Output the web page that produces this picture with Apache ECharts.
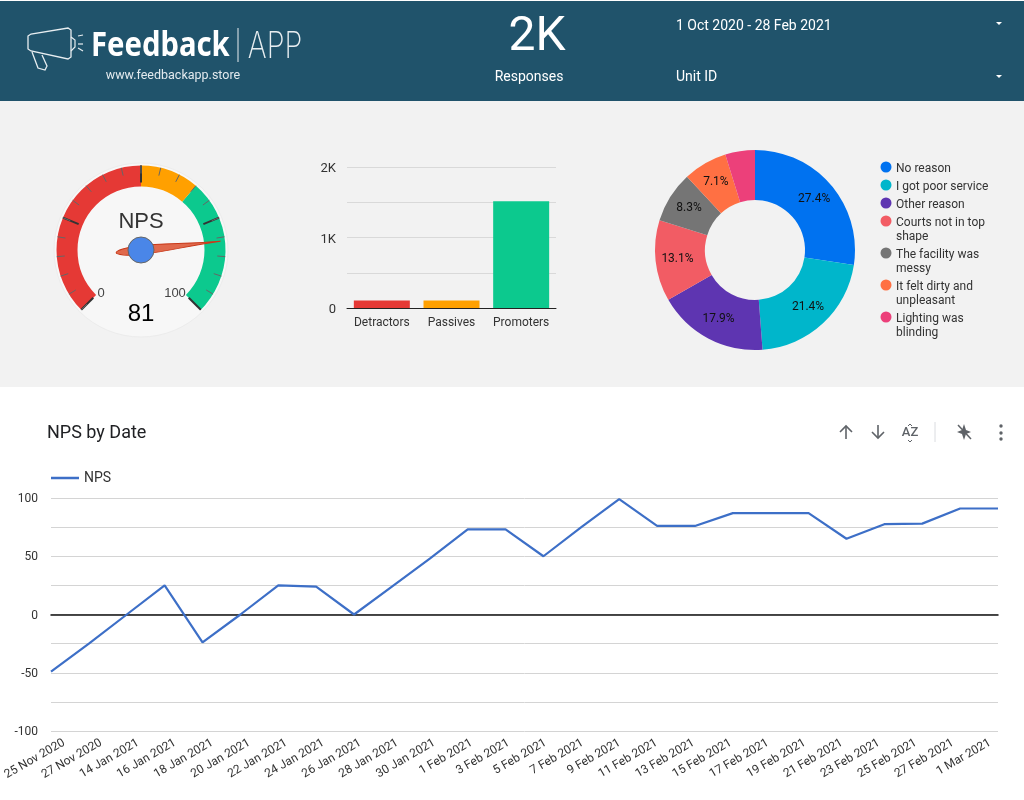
<!DOCTYPE html>
<html>
<head>
<meta charset="utf-8">
<style>html,body{margin:0;padding:0;background:#fff}#main{width:1024px;height:800px}</style>
<script src="https://cdn.jsdelivr.net/npm/echarts@6/dist/echarts.min.js"></script>
</head>
<body>
<div id="main"></div>
<script>
var npsScore = 81;
var gaugeTickLabels = ['0', '100'];
var barCats = ['Detractors', 'Passives', 'Promoters'];
var barVals = [105, 105, 1515];
var reasonNames = ['No reason', 'I got poor service', 'Other reason', 'Courts not in top\nshape', 'The facility was\nmessy', 'It felt dirty and\nunpleasant', 'Lighting was\nblinding'];
var reasonVals = [27.4, 21.4, 17.9, 13.1, 8.3, 7.1, 4.8];
var reasonColors = ['#0072f0', '#00b6cb', '#5e35b1', '#f25c64', '#757575', '#ff7043', '#ec407a'];
var dates = ['25 Nov 2020', '27 Nov 2020', '14 Jan 2021', '16 Jan 2021', '18 Jan 2021', '20 Jan 2021', '22 Jan 2021', '24 Jan 2021', '26 Jan 2021', '28 Jan 2021', '30 Jan 2021', '1 Feb 2021', '3 Feb 2021', '5 Feb 2021', '7 Feb 2021', '9 Feb 2021', '11 Feb 2021', '13 Feb 2021', '15 Feb 2021', '17 Feb 2021', '19 Feb 2021', '21 Feb 2021', '23 Feb 2021', '25 Feb 2021', '27 Feb 2021', '1 Mar 2021'];
var npsByDate = [-49, -25, 0, 25, -24, 0, 25, 24, 0, 24, 48, 73, 73, 50, 75, 99, 76, 76, 87, 87, 87, 65, 77.5, 78, 91, 91];

var font = 'Roboto';
var myChart = echarts.init(document.getElementById('main'));

var graphics = [
    {type: 'rect', z: -10, shape: {x: 0, y: 1, width: 1024, height: 100}, style: {fill: '#20536b'}},
    {type: 'rect', z: -10, shape: {x: 0, y: 101, width: 1024, height: 286}, style: {fill: '#f2f2f2'}},
    {type: 'circle', z: -5, shape: {cx: 141, cy: 250, r: 87}, style: {fill: '#f7f7f7', stroke: '#ececec', lineWidth: 1}}
];

function txt(x, y, text, size, color, align, extra, scaleX) {
    var s = {x: x, y: y, text: text, fontSize: size, fill: color, align: align || 'left', verticalAlign: 'middle', fontFamily: font};
    for (var k in extra) s[k] = extra[k];
    var el = {type: 'text', z: 5, style: s};
    if (scaleX) {
        el.scaleX = scaleX;
        el.originX = x;
        el.originY = y;
    }
    graphics.push(el);
}
function stroke(points, color, width, closed) {
    graphics.push({type: closed ? 'polygon' : 'polyline', z: 5, shape: {points: points}, style: {stroke: color, fill: null, lineWidth: width}});
}

// header
stroke([[28, 36], [31, 34], [68, 28], [71, 30], [71, 57], [68, 59], [31, 51], [28, 49]], '#e8eef1', 1.3, true);
stroke([[32, 52], [38, 68], [45, 70], [47, 66], [42, 55]], '#e8eef1', 1.3);
stroke([[71, 37], [75, 40], [75, 47], [71, 51]], '#e8eef1', 1.2);
stroke([[78, 36], [83, 35]], '#e8eef1', 1.2);
stroke([[78, 44], [83, 44]], '#e8eef1', 1.2);
stroke([[78, 48], [83, 51]], '#e8eef1', 1.2);
stroke([[238, 28], [238, 62]], '#e8eef1', 1);
txt(91, 46, 'Feedback', 34, '#ffffff', 'left', {fontFamily: 'Noto Sans', fontWeight: 700}, 0.86);
txt(275, 47, 'APP', 36, '#e8eef1', 'center', {fontFamily: 'Inter', fontWeight: 200}, 0.8);
txt(173, 76, 'www.feedbackapp.store', 12.5, '#e3eaee', 'center');
txt(537, 38, '2K', 48, '#ffffff', 'center');
txt(529, 77, 'Responses', 14, '#ffffff', 'center');
txt(676, 26, '1 Oct 2020 - 28 Feb 2021', 14, '#ffffff');
txt(676, 77, 'Unit ID', 14, '#ffffff');
graphics.push({type: 'polygon', z: 5, shape: {points: [[996, 22], [1002, 22], [999, 25]]}, style: {fill: '#ffffff'}});
graphics.push({type: 'polygon', z: 5, shape: {points: [[996, 75], [1002, 75], [999, 78]]}, style: {fill: '#ffffff'}});

// gauge end labels
txt(101, 293, gaugeTickLabels[0], 13, '#444', 'center', {fontFamily: 'Liberation Sans'});
txt(175, 293, gaugeTickLabels[1], 13, '#444', 'center', {fontFamily: 'Liberation Sans'});

// reason legend, names wrap so the dot stays on the first line
var legendY = 167;
reasonNames.forEach(function (name, i) {
    graphics.push({type: 'circle', z: 5, shape: {cx: 886, cy: legendY, r: 5.5}, style: {fill: reasonColors[i]}});
    graphics.push({type: 'text', z: 5, style: {x: 896, y: legendY - 5.5, text: name, fontSize: 12, lineHeight: 14, fill: '#333', fontFamily: font, verticalAlign: 'top'}});
    legendY += name.indexOf('\n') > 0 ? 32 : 18;
});

// title and toolbar
txt(47, 433, 'NPS by Date', 18, '#202124');
var ic = '#5f6368';
stroke([[846, 439], [846, 426]], ic, 1.6);
stroke([[840, 432], [846, 426], [852, 432]], ic, 1.6);
stroke([[878, 425], [878, 438]], ic, 1.6);
stroke([[872, 432], [878, 438], [884, 432]], ic, 1.6);
txt(910, 433, 'AZ', 13, ic, 'center', {fontWeight: 500});
stroke([[908, 426], [910, 424], [912, 426]], ic, 1);
stroke([[908, 440], [910, 442], [912, 440]], ic, 1);
stroke([[935, 422], [935, 442]], '#dadce0', 1);
graphics.push({type: 'polygon', z: 5, shape: {points: [[964, 424], [966, 430], [971, 432], [966, 434], [964, 440], [962, 434], [957, 432], [962, 430]]}, style: {fill: ic}});
stroke([[958, 425], [971, 439]], ic, 1.5);
[426, 433, 439].forEach(function (y) {
    graphics.push({type: 'circle', z: 5, shape: {cx: 1001, cy: y, r: 1.7}, style: {fill: ic}});
});

var option = {
    animation: false,
    textStyle: {fontFamily: font},
    graphic: graphics,
    legend: {
        data: [{name: 'NPS', icon: 'rect'}],
        left: 51,
        top: 471,
        padding: 0,
        itemWidth: 28,
        itemHeight: 2.5,
        itemGap: 5,
        textStyle: {fontSize: 14, color: '#333', fontFamily: font}
    },
    grid: [
        {left: 347, top: 167, width: 209, height: 141},
        {left: 51, top: 498, width: 947, height: 233},
        {left: 60, top: 498, width: 930, height: 233}
    ],
    xAxis: [
        {
            type: 'category', gridIndex: 0, data: barCats,
            axisLine: {lineStyle: {color: '#222', width: 1}},
            axisTick: {show: false},
            axisLabel: {fontSize: 12, color: '#333', margin: 9, interval: 0}
        },
        {
            type: 'category', gridIndex: 1, data: dates, boundaryGap: false,
            axisLine: {onZero: true, lineStyle: {color: '#111', width: 1.5}},
            axisTick: {show: false},
            axisLabel: {show: false}
        },
        {
            type: 'category', gridIndex: 2, data: dates, boundaryGap: false,
            axisLine: {show: false},
            axisTick: {show: false},
            axisLabel: {fontSize: 12, color: '#333', rotate: 30, interval: 0, margin: 11}
        }
    ],
    yAxis: [
        {
            type: 'value', gridIndex: 0, min: 0, max: 2000, interval: 500,
            axisLine: {show: false},
            axisTick: {show: false},
            splitLine: {lineStyle: {color: '#d9d9d9', width: 1}},
            axisLabel: {
                fontSize: 13, color: '#333', margin: 11, verticalAlign: 'top', lineHeight: 4,
                formatter: function (v) { return v === 0 ? '0' : v % 1000 === 0 ? (v / 1000) + 'K' : ''; }
            }
        },
        {
            type: 'value', gridIndex: 1, min: -100, max: 100, interval: 25,
            axisLine: {show: false},
            axisTick: {show: false},
            splitLine: {lineStyle: {color: '#d4d4d4', width: 1}},
            axisLabel: {
                fontSize: 12, color: '#333', margin: 13, verticalAlign: 'top', lineHeight: 2,
                formatter: function (v) { return v % 50 === 0 ? String(v) : ''; }
            }
        },
        {type: 'value', gridIndex: 2, min: -100, max: 100, show: false}
    ],
    series: [
        {
            type: 'gauge',
            center: [141, 250],
            radius: 84.5,
            startAngle: 225,
            endAngle: -45,
            min: 0,
            max: 100,
            splitNumber: 4,
            axisLine: {lineStyle: {width: 21, color: [[0.5, '#e53935'], [0.65, '#ffa000'], [1, '#0cc98e']]}},
            splitLine: {distance: -21, length: 17, lineStyle: {color: '#333', width: 2}},
            axisTick: {distance: -21, length: 8, splitNumber: 5, lineStyle: {color: '#666', width: 1}},
            axisLabel: {show: false},
            pointer: {
                icon: 'path://M5 0C6 30 10 60 10 80C10 95 7 105 5 105C3 105 0 95 0 80C0 60 4 30 5 0Z',
                length: 105,
                width: 9,
                offsetCenter: [0, 25],
                itemStyle: {color: '#e0694c', borderColor: '#c8391a', borderWidth: 1}
            },
            anchor: {show: true, showAbove: true, size: 26, itemStyle: {color: '#4a86e8', borderColor: '#666', borderWidth: 1}},
            title: {offsetCenter: [0, -28], fontSize: 22, color: '#333', fontFamily: 'Liberation Sans'},
            detail: {offsetCenter: [0, 64], fontSize: 24, fontWeight: 'normal', color: '#000', fontFamily: 'Liberation Sans', valueAnimation: false, formatter: '{value}'},
            data: [{value: npsScore, name: 'NPS'}]
        },
        {
            type: 'bar',
            xAxisIndex: 0,
            yAxisIndex: 0,
            barWidth: 56,
            data: barVals.map(function (v, i) {
                return {value: v, itemStyle: {color: ['#e53935', '#ffa000', '#0cc98e'][i]}};
            })
        },
        {
            type: 'pie',
            center: [755, 250],
            radius: [50, 100],
            startAngle: 90,
            clockwise: true,
            label: {
                show: true,
                position: 'inside',
                fontSize: 12,
                color: '#111',
                formatter: function (p) { return p.value < 5 ? '' : p.value.toFixed(1) + '%'; }
            },
            labelLine: {show: false},
            emphasis: {disabled: true},
            data: reasonNames.map(function (n, i) {
                return {name: n, value: reasonVals[i], itemStyle: {color: reasonColors[i]}};
            })
        },
        {
            name: 'NPS',
            type: 'line',
            xAxisIndex: 1,
            yAxisIndex: 1,
            data: npsByDate,
            symbol: 'none',
            lineStyle: {color: '#3d6fc7', width: 2.2},
            itemStyle: {color: '#3d6fc7'}
        }
    ]
};
myChart.setOption(option);
</script>
</body>
</html>
